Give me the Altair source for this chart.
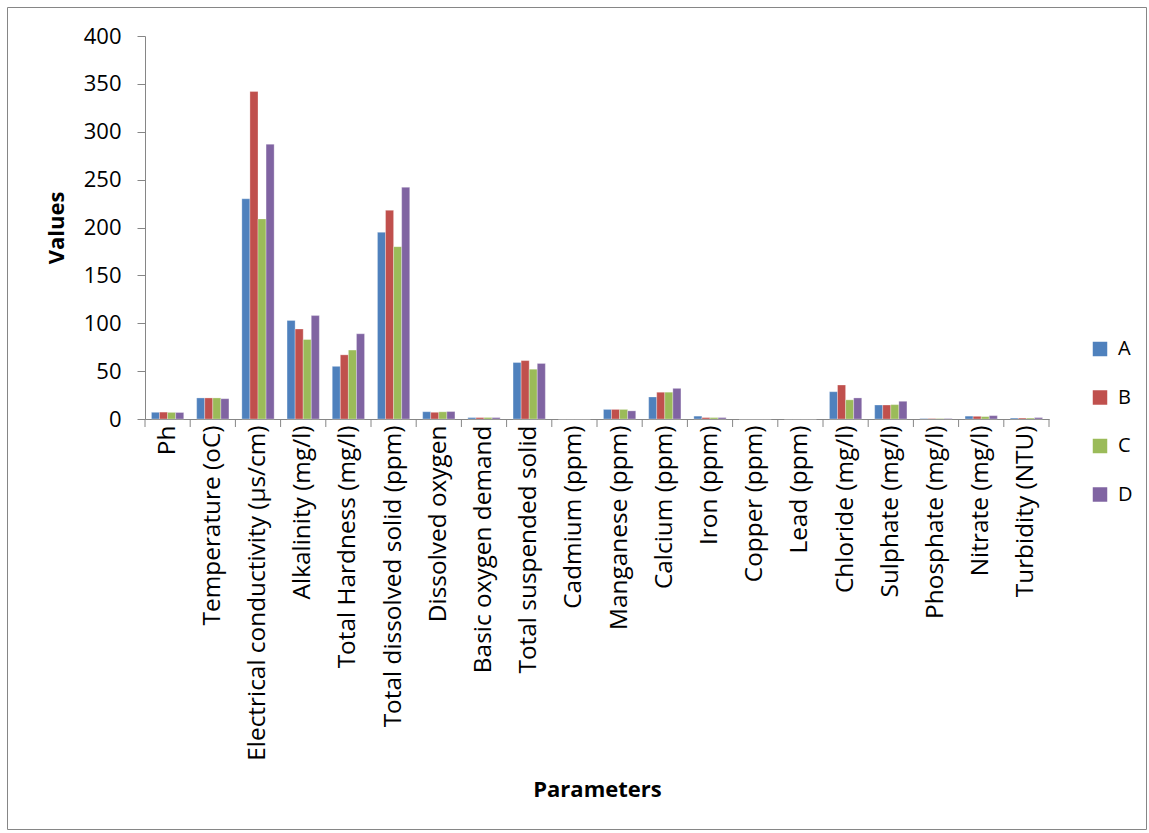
import altair as alt
import pandas as pd

# Water quality parameters measured at four sampling sites
params = [
    "Ph", "Temperature (oC)", "Electrical conductivity (µs/cm)", "Alkalinity (mg/l)",
    "Total Hardness (mg/l)", "Total dissolved solid (ppm)", "Dissolved oxygen",
    "Basic oxygen demand", "Total suspended solid", "Cadmium (ppm)", "Manganese (ppm)",
    "Calcium (ppm)", "Iron (ppm)", "Copper (ppm)", "Lead (ppm)", "Chloride (mg/l)",
    "Sulphate (mg/l)", "Phosphate (mg/l)", "Nitrate (mg/l)", "Turbidity (NTU)",
]
site_a = [7.0, 22.0, 230, 103, 55, 195, 7.6, 1.5, 59, 0, 10.0, 23, 3.0, 0, 0, 28.5, 14.6, 0.5, 3.0, 1.0]
site_b = [7.2, 22.0, 342, 94, 67, 218, 7.0, 1.5, 61, 0, 10.0, 28, 1.5, 0, 0, 35.5, 14.6, 0.5, 2.8, 1.0]
site_c = [6.9, 22.0, 209, 83, 72, 180, 7.5, 1.6, 52, 0, 10.0, 28, 1.5, 0, 0, 20.0, 15.0, 0.5, 2.5, 1.0]
site_d = [6.8, 21.2, 287, 108, 89, 242, 7.8, 1.5, 58, 0, 8.5, 32, 1.5, 0, 0, 22.0, 18.5, 0.5, 3.5, 1.5]
sites = ["A", "B", "C", "D"]
colors = ["#4F81BD", "#C0504D", "#9BBB59", "#8064A2"]
y_ticks = [0, 50, 100, 150, 200, 250, 300, 350, 400]

rows = []
for site, vals in zip(sites, [site_a, site_b, site_c, site_d]):
    for p, v in zip(params, vals):
        rows.append({"Parameter": p, "Site": site, "Value": v})
df = pd.DataFrame(rows)

W, H = 904, 383
FONT = "Open Sans"
AXIS_GREY = "#868686"

x_scale = alt.Scale(domain=params, paddingInner=0, paddingOuter=0)

bars = alt.Chart(df).mark_bar(stroke="#FFFFFF", strokeOpacity=0.5, strokeWidth=0.6).encode(
    x=alt.X("Parameter:N", sort=params, scale=x_scale,
            axis=alt.Axis(title="Parameters", labelAngle=-90, labelFontSize=24.4,
                          labelPadding=6, ticks=False, labelLimit=400,
                          domainColor=AXIS_GREY, labelColor="#000000",
                          titleFontSize=22, titleFontWeight="bold",
                          titleY=370, titleBaseline="middle",
                          titleColor="#000000")),
    xOffset=alt.XOffset("Site:N", scale=alt.Scale(paddingInner=0, paddingOuter=0.8)),
    y=alt.Y("Value:Q", scale=alt.Scale(domain=[0, 400], nice=False),
            axis=alt.Axis(title="Values", values=y_ticks, grid=False, tickSize=8,
                          labelFontSize=22, labelPadding=16, domainColor=AXIS_GREY,
                          tickColor=AXIS_GREY, labelColor="#000000",
                          titleFontSize=22, titleFontWeight="bold", titlePadding=15,
                          titleColor="#000000")),
    color=alt.Color("Site:N", scale=alt.Scale(domain=sites, range=colors),
                    legend=alt.Legend(title=None, orient="none", legendX=945, legendY=303,
                                      symbolType="square", symbolSize=210,
                                      symbolStrokeWidth=0, labelFontSize=20,
                                      rowPadding=28.5, labelOffset=8)),
)

# Category ticks sit between groups, Excel style
tick_df = pd.DataFrame({"Parameter": params})
ticks = alt.Chart(tick_df).mark_rule(color=AXIS_GREY, strokeWidth=1).encode(
    x=alt.X("Parameter:N", sort=params, scale=x_scale, bandPosition=0),
    y=alt.value(H), y2=alt.value(H + 8),
)
end_tick = alt.Chart(pd.DataFrame({"k": [0]})).mark_rule(color=AXIS_GREY).encode(
    x=alt.value(W), y=alt.value(H), y2=alt.value(H + 8),
)

# Outer frame around the whole chart
frame = alt.Chart(pd.DataFrame({"k": [0]})).mark_rect(
    fill=None, stroke=AXIS_GREY, strokeWidth=1
).encode(
    x=alt.value(-137.5), x2=alt.value(1001.5), y=alt.value(-28.5), y2=alt.value(793.5),
)

chart = alt.layer(frame, bars, ticks, end_tick).properties(
    width=W, height=H, padding={"left": 7, "top": 7, "right": 0, "bottom": 0},
).configure(font=FONT).configure_view(stroke=None)

chart.save("out.html", embed_options={"renderer": "svg", "actions": False})
